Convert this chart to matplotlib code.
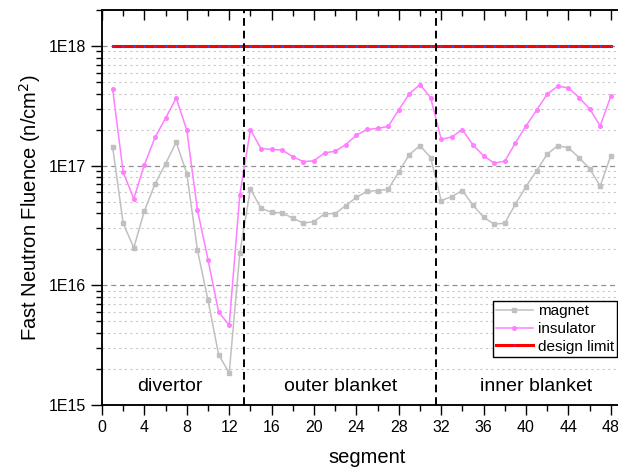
import matplotlib
matplotlib.use("Agg")
import matplotlib.pyplot as plt
from matplotlib.ticker import LogLocator, FuncFormatter, MultipleLocator, NullFormatter
import numpy as np

plt.rcParams["font.family"] = ["Liberation Sans", "DejaVu Sans"]

segments = list(range(1, 49))
magnet = [1.44e17, 3.29e16, 2.06e16, 4.19e16, 7.04e16, 1.04e17, 1.57e17, 8.6e16,
          1.98e16, 7.5e15, 2.64e15, 1.85e15, 1.86e16, 6.4e16, 4.4e16, 4.08e16,
          4.03e16, 3.64e16, 3.31e16, 3.41e16, 3.96e16, 3.98e16, 4.64e16, 5.44e16,
          6.11e16, 6.19e16, 6.35e16, 8.86e16, 1.24e17, 1.47e17, 1.17e17, 5.11e16,
          5.52e16, 6.2e16, 4.67e16, 3.71e16, 3.24e16, 3.31e16, 4.76e16, 6.68e16,
          9.08e16, 1.25e17, 1.47e17, 1.41e17, 1.17e17, 9.44e16, 6.77e16, 1.21e17]
insulator = [4.4e17, 8.8e16, 5.3e16, 1.02e17, 1.72e17, 2.5e17, 3.67e17, 1.98e17,
             4.28e16, 1.64e16, 6.0e15, 4.64e15, 5.7e16, 2.0e17, 1.39e17, 1.37e17,
             1.35e17, 1.19e17, 1.08e17, 1.10e17, 1.28e17, 1.32e17, 1.50e17, 1.80e17,
             2.01e17, 2.05e17, 2.13e17, 2.93e17, 4.0e17, 4.76e17, 3.71e17, 1.66e17,
             1.74e17, 2.0e17, 1.49e17, 1.21e17, 1.05e17, 1.09e17, 1.55e17, 2.15e17,
             2.91e17, 3.96e17, 4.61e17, 4.47e17, 3.71e17, 2.99e17, 2.15e17, 3.8e17]
design_limit = [1e18] * 48

region_bounds = [13.35, 31.5]
region_names = ["divertor", "outer blanket", "inner blanket"]
region_centers = [6.4, 22.5, 41.0]

fig = plt.figure(figsize=(6.18, 4.71), dpi=100)
ax = fig.add_axes([102 / 618, 66 / 471, 530 / 618, 395 / 471])

ax.set_yscale("log")
ax.set_xlim(0, 50)
ax.set_ylim(1e15, 2e18)

# horizontal grid: dashed at decades, dotted at minor ticks
ax.yaxis.set_major_locator(LogLocator(base=10, numticks=10))
ax.yaxis.set_minor_locator(LogLocator(base=10, subs=np.arange(2, 10), numticks=20))
ax.yaxis.set_major_formatter(FuncFormatter(lambda v, p: "1E%d" % int(round(np.log10(v)))))
ax.yaxis.set_minor_formatter(NullFormatter())
ax.grid(True, axis="y", which="major", color="#909090", linestyle=(0, (4, 3)), linewidth=0.9)
ax.grid(True, axis="y", which="minor", color="#c8c8c8", linestyle=(0, (2, 3)), linewidth=0.8)
ax.set_axisbelow(True)

ax.plot(segments, magnet, color="#c0c0c0", marker="s", markersize=3, linewidth=1.1,
        label="magnet")
ax.plot(segments, insulator, color="#ff7fff", marker="o", markersize=2.6, linewidth=1.1,
        label="insulator")
ax.plot(segments, design_limit, color="#ff0000", marker="o", markersize=1.3,
        markerfacecolor="#5050ff", markeredgewidth=0, linewidth=2.2,
        label="design limit")

for xb in region_bounds:
    ax.axvline(xb, color="black", linestyle=(0, (4, 2.5)), linewidth=1.4)

for name, xc in zip(region_names, region_centers):
    ax.text(xc, 1.42e15, name, ha="center", va="center", fontsize=14)

ax.xaxis.set_major_locator(MultipleLocator(4))
ax.xaxis.set_minor_locator(MultipleLocator(2))
ax.tick_params(axis="x", which="both", bottom=True, top=False, direction="out",
               labelsize=11.5)
ax.tick_params(axis="x", which="major", length=7, width=1)
ax.tick_params(axis="x", which="minor", length=4, width=1)
ax.tick_params(axis="y", which="major", length=8, width=1, labelsize=11.5, direction="out")
ax.tick_params(axis="y", which="minor", length=4, width=1, direction="out")

# top axis ticks point into the plot
top = ax.twiny()
top.set_xlim(ax.get_xlim())
top.xaxis.set_major_locator(MultipleLocator(4))
top.xaxis.set_minor_locator(MultipleLocator(2))
top.tick_params(axis="x", which="both", direction="in", labeltop=False, width=1)
top.tick_params(axis="x", which="major", length=7)
top.tick_params(axis="x", which="minor", length=4)

for a in (ax, top):
    for s in a.spines.values():
        s.set_linewidth(1.1)

ax.set_xlabel("segment", fontsize=14.5, labelpad=10)
ax.set_ylabel("Fast Neutron Fluence (n/cm$^2$)", fontsize=14.5, labelpad=4)

leg = top.legend(*ax.get_legend_handles_labels(), loc="upper left",
                 bbox_to_anchor=(493 / 618, 1 - 301 / 471),
                 bbox_transform=fig.transFigure, fontsize=11, frameon=True,
                 fancybox=False, framealpha=1, edgecolor="black", borderpad=0.2,
                 labelspacing=0.25, handlelength=2.4, handletextpad=0.35,
                 borderaxespad=0)
leg.get_frame().set_linewidth(1.0)

fig.savefig("out.png", dpi=100)
